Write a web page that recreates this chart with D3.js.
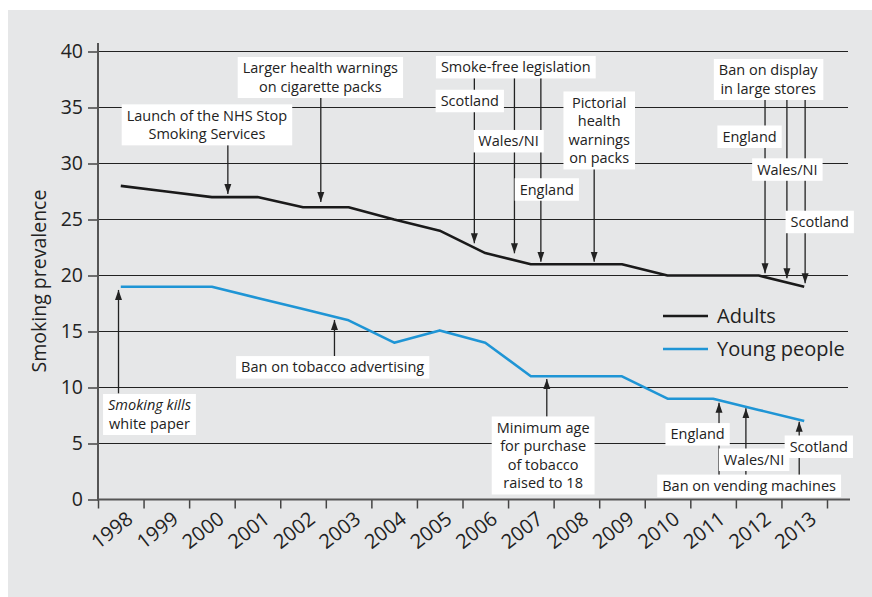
<!DOCTYPE html>
<html>
<head>
<meta charset="utf-8">
<script src="https://cdn.jsdelivr.net/npm/d3@7"></script>
<style>
  body { margin: 0; background: #fff; }
  text { font-family: "Open Sans", sans-serif; fill: #222; }
</style>
</head>
<body>
<div id="chart"></div>
<script>
// data
const years = [1998, 1999, 2000, 2001, 2002, 2003, 2004, 2005, 2006, 2007, 2008, 2009, 2010, 2011, 2012, 2013];
const adults = [28, 27.5, 27, 27, 26.1, 26.1, 25, 24, 22, 21, 21, 21, 20, 20, 20, 19];
const young = [19, 19, 19, 18, 17, 16, 14, 15.1, 14, 11, 11, 11, 9, 9, 8, 7];
const yTicks = [0, 5, 10, 15, 20, 25, 30, 35, 40];
const seriesNames = ["Adults", "Young people"];

// annotation boxes: lines of text, centre in (year, value)
const boxes = [
  { lines: ["Launch of the NHS Stop", "Smoking Services"], x: 1999.89, y: 33.45 },
  { lines: ["Larger health warnings", "on cigarette packs"], x: 2002.38, y: 37.68 },
  { lines: ["Smoke-free legislation"], x: 2006.67, y: 38.6 },
  { lines: ["Scotland"], x: 2005.66, y: 35.58 },
  { lines: ["Wales/NI"], x: 2006.51, y: 31.99 },
  { lines: ["England"], x: 2007.35, y: 27.68 },
  { lines: ["Pictorial", "health", "warnings", "on packs"], x: 2008.5, y: 32.95 },
  { lines: ["Ban on display", "in large stores"], x: 2012.21, y: 37.5 },
  { lines: ["England"], x: 2011.8, y: 32.39 },
  { lines: ["Wales/NI"], x: 2012.63, y: 29.46 },
  { lines: ["Scotland"], x: 2013.34, y: 24.78 },
  { lines: ["*Smoking kills", "white paper"], x: 1998.63, y: 7.59 },
  { lines: ["Ban on tobacco advertising"], x: 2002.65, y: 11.8 },
  { lines: ["Minimum age", "for purchase", "of tobacco", "raised to 18"], x: 2007.27, y: 3.93 },
  { lines: ["Ban on vending machines"], x: 2011.79, y: 1.22 },
  { lines: ["England"], x: 2010.66, y: 5.82 },
  { lines: ["Wales/NI"], x: 2011.9, y: 3.55 },
  { lines: ["Scotland"], x: 2013.32, y: 4.71 }
];

// arrows: x (year), from value to value (tip)
const arrows = [
  { x: 2000.35, from: 31.72, to: 27.28 },
  { x: 2002.39, from: 35.88, to: 26.56 },
  { x: 2005.76, from: 37.66, to: 22.88 },
  { x: 2006.64, from: 37.66, to: 21.98 },
  { x: 2007.22, from: 37.66, to: 21.23 },
  { x: 2008.39, from: 29.63, to: 21.23 },
  { x: 2012.14, from: 35.82, to: 20.2 },
  { x: 2012.62, from: 35.82, to: 19.75 },
  { x: 2013.02, from: 35.82, to: 19.3 },
  { x: 1997.95, from: 9.48, to: 18.71 },
  { x: 2002.69, from: 12.81, to: 16.03 },
  { x: 2007.35, from: 7.39, to: 10.76 },
  { x: 2011.13, from: 2.04, to: 8.64 },
  { x: 2011.72, from: 2.04, to: 8.14 },
  { x: 2012.89, from: 2.04, to: 6.95 }
];

const W = 872, H = 597;
const colors = ["#1a1a1a", "#1f95d5"];

const svg = d3.select("#chart").append("svg")
  .attr("width", W).attr("height", H);

// grey panel
svg.append("rect").attr("x", 8).attr("y", 10).attr("width", W - 8).attr("height", H - 10)
  .attr("fill", "#e6e7e8");

const x = d3.scaleLinear().domain([1997.5, 2013.5]).range([98, 827]);
const y = d3.scaleLinear().domain([0, 40]).range([499.5, 51.5]);

// gridlines
svg.append("g").selectAll("line")
  .data(yTicks.filter(d => d > 0))
  .join("line")
  .attr("x1", 98).attr("x2", 848)
  .attr("y1", d => y(d)).attr("y2", d => y(d))
  .attr("stroke", "#222").attr("stroke-width", 1.1);

// y axis
const yAxis = svg.append("g")
  .attr("transform", "translate(98,0)")
  .call(d3.axisLeft(y).tickValues(yTicks).tickSize(10).tickPadding(5));
yAxis.select(".domain").remove();
yAxis.selectAll(".tick line").attr("stroke", "#444").attr("stroke-width", 1.5);
yAxis.selectAll(".tick text").style("font-size", "19.5px").attr("fill", "#222");
svg.append("line").attr("x1", 98).attr("x2", 98).attr("y1", 43).attr("y2", 500.5)
  .attr("stroke", "#555").attr("stroke-width", 2);

// x axis: ticks at year boundaries, labels at centres
const xTickAxis = svg.append("g")
  .attr("transform", `translate(0,${y(0)})`)
  .call(d3.axisBottom(x).tickValues(d3.range(1997.5, 2014, 1)).tickSize(9).tickFormat(""));
xTickAxis.select(".domain").remove();
xTickAxis.selectAll(".tick line").attr("stroke", "#444").attr("stroke-width", 1.5);
svg.append("line").attr("x1", 97).attr("x2", 850).attr("y1", y(0)).attr("y2", y(0))
  .attr("stroke", "#555").attr("stroke-width", 2);

const xLab = svg.append("g")
  .attr("transform", `translate(0,${y(0)})`)
  .call(d3.axisBottom(x).tickValues(years).tickSize(0).tickFormat(d3.format("d")));
xLab.select(".domain").remove();
xLab.selectAll(".tick text")
  .style("font-size", "20px")
  .attr("fill", "#222")
  .attr("text-anchor", "end")
  .attr("dy", 0)
  .attr("y", 0)
  .attr("transform", "translate(13,22) rotate(-38)");

// y axis title
svg.append("text")
  .attr("transform", "translate(46,281) rotate(-90)")
  .attr("text-anchor", "middle")
  .style("font-size", "19.5px")
  .text("Smoking prevalence");

// lines
const line = d3.line().x((d, i) => x(years[i])).y(d => y(d));
[adults, young].forEach((s, i) => {
  svg.append("path").datum(s)
    .attr("fill", "none")
    .attr("stroke", colors[i])
    .attr("stroke-width", 2.6)
    .attr("stroke-linejoin", "round")
    .attr("d", line);
});

// arrows
svg.append("defs").append("marker")
  .attr("id", "head")
  .attr("viewBox", "0 0 10 10")
  .attr("refX", 10).attr("refY", 5)
  .attr("markerWidth", 10).attr("markerHeight", 10)
  .attr("markerUnits", "userSpaceOnUse")
  .attr("orient", "auto")
  .append("path").attr("d", "M0,1.5 L10,5 L0,8.5 Z").attr("fill", "#222");

svg.append("g").selectAll("line")
  .data(arrows)
  .join("line")
  .attr("x1", d => x(d.x)).attr("x2", d => x(d.x))
  .attr("y1", d => y(d.from)).attr("y2", d => y(d.to))
  .attr("stroke", "#222").attr("stroke-width", 1.3)
  .attr("marker-end", "url(#head)");

// label boxes
const lineH = 18.5;
boxes.forEach(b => {
  const g = svg.append("g");
  const cx = x(b.x), cy = y(b.y);
  const rect = g.append("rect").attr("fill", "#fff");
  const t = g.append("text")
    .attr("text-anchor", "middle")
    .style("font-size", "14.5px");
  const n = b.lines.length;
  b.lines.forEach((l, i) => {
    const ts = t.append("tspan")
      .attr("x", cx)
      .attr("y", cy + (i - (n - 1) / 2) * lineH)
      .attr("dy", "0.35em");
    if (l.startsWith("*")) {
      ts.append("tspan").style("font-style", "italic").text(l.slice(1));
    } else {
      ts.text(l);
    }
  });
  const bb = t.node().getBBox();
  rect.attr("x", bb.x - 5).attr("y", cy - (n * lineH) / 2 - 2)
    .attr("width", bb.width + 10).attr("height", n * lineH + 4);
});

// legend
const legend = svg.append("g");
seriesNames.forEach((name, i) => {
  const ly = 316 + i * 33;
  legend.append("line")
    .attr("x1", 663).attr("x2", 708).attr("y1", ly).attr("y2", ly)
    .attr("stroke", colors[i]).attr("stroke-width", 2.6);
  legend.append("text")
    .attr("x", 717).attr("y", ly).attr("dy", "0.35em")
    .style("font-size", "20px")
    .text(name);
});
</script>
</body>
</html>
